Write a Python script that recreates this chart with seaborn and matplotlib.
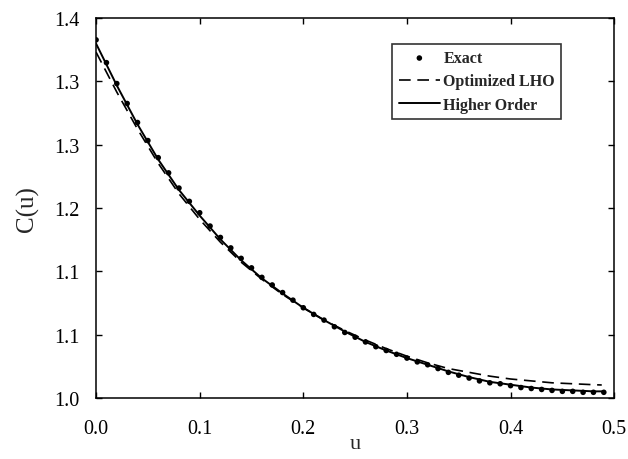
import numpy as np
import seaborn as sns
import matplotlib.pyplot as plt

# exact points
u_exact = [0.00, 0.01, 0.02, 0.03, 0.04, 0.05, 0.06, 0.07, 0.08, 0.09,
           0.10, 0.11, 0.12, 0.13, 0.14, 0.15, 0.16, 0.17, 0.18, 0.19,
           0.20, 0.21, 0.22, 0.23, 0.24, 0.25, 0.26, 0.27, 0.28, 0.29,
           0.30, 0.31, 0.32, 0.33, 0.34, 0.35, 0.36, 0.37, 0.38, 0.39,
           0.40, 0.41, 0.42, 0.43, 0.44, 0.45, 0.46, 0.47, 0.48, 0.49]
c_exact = [1.377, 1.353, 1.331, 1.310, 1.290, 1.271, 1.253, 1.237, 1.221, 1.207,
           1.195, 1.181, 1.169, 1.158, 1.147, 1.137, 1.127, 1.119, 1.111, 1.103,
           1.095, 1.088, 1.082, 1.075, 1.069, 1.064, 1.059, 1.054, 1.050, 1.046,
           1.042, 1.038, 1.035, 1.031, 1.027, 1.024, 1.021, 1.018, 1.016, 1.015,
           1.013, 1.011, 1.010, 1.009, 1.008, 1.007, 1.007, 1.006, 1.006, 1.006]

# optimized LHO (dashed)
u_lho = [0.00, 0.02, 0.04, 0.06, 0.08, 0.10, 0.12, 0.14, 0.16, 0.18, 0.20,
         0.22, 0.24, 0.26, 0.28, 0.30, 0.32, 0.34, 0.36, 0.38, 0.40, 0.42,
         0.44, 0.46, 0.48, 0.488]
c_lho = [1.364, 1.322, 1.283, 1.247, 1.215, 1.188, 1.164, 1.143, 1.125, 1.109, 1.095,
         1.082, 1.071, 1.061, 1.052, 1.044, 1.037, 1.031, 1.027, 1.023, 1.020, 1.018,
         1.016, 1.015, 1.014, 1.0137]

# higher order (solid)
u_ho = [0.00, 0.02, 0.04, 0.06, 0.08, 0.10, 0.12, 0.14, 0.16, 0.18, 0.20,
        0.22, 0.24, 0.26, 0.28, 0.30, 0.32, 0.34, 0.36, 0.38, 0.40, 0.42,
        0.44, 0.46, 0.48, 0.49]
c_ho = [1.373, 1.329, 1.288, 1.251, 1.219, 1.192, 1.167, 1.145, 1.126, 1.110, 1.095,
        1.082, 1.070, 1.059, 1.050, 1.042, 1.035, 1.028, 1.022, 1.017, 1.014, 1.011,
        1.009, 1.008, 1.007, 1.007]

x_ticks = [0.0, 0.1, 0.2, 0.3, 0.4, 0.5]
x_labels = ["0.0", "0.1", "0.2", "0.3", "0.4", "0.5"]
y_labels = ["1.0", "1.1", "1.1", "1.2", "1.3", "1.3", "1.4"]

sns.set_style("ticks")
plt.rcParams["font.family"] = ["Liberation Serif", "DejaVu Serif"]

fig = plt.figure(figsize=(6.28, 4.6), dpi=100)
ax = fig.add_axes([0.153, 0.1326, 0.825, 0.8261])

sns.scatterplot(x=u_exact, y=c_exact, ax=ax, color="black", s=16,
                edgecolor="none", label="Exact", zorder=3)
sns.lineplot(x=u_lho, y=c_lho, ax=ax, color="black", lw=1.2,
             linestyle=(0, (7, 4)), label="Optimized LHO")
sns.lineplot(x=u_ho, y=c_ho, ax=ax, color="black", lw=1.4,
             label="Higher Order")

ax.set_xlim(0.0, 0.5)
ax.set_ylim(1.0, 1.4)
ax.set_xticks(x_ticks)
ax.set_xticklabels(x_labels)
ax.set_yticks(np.linspace(1.0, 1.4, len(y_labels)))
ax.set_yticklabels(y_labels)

ax.tick_params(direction="in", length=4, width=1, top=True, right=True,
               labelsize=14.5, colors="black")
ax.tick_params(axis="x", pad=15)
ax.tick_params(axis="y", pad=12)
for sp in ax.spines.values():
    sp.set_visible(True)
    sp.set_linewidth(1.1)
    sp.set_color("black")

ax.set_xlabel("u", fontsize=16, labelpad=-3)
ax.set_ylabel("C(u)", fontsize=18, labelpad=11)

leg = ax.legend(loc="upper right", bbox_to_anchor=(0.898, 0.932),
                borderaxespad=0, frameon=True, fancybox=False,
                edgecolor="black", handlelength=2.6, handletextpad=0.2,
                labelspacing=0.45, borderpad=0.4, scatterpoints=1,
                prop={"family": "Liberation Serif", "weight": "bold", "size": 11.5})
leg.get_frame().set_linewidth(1.2)

fig.savefig("out.png", dpi=100)
